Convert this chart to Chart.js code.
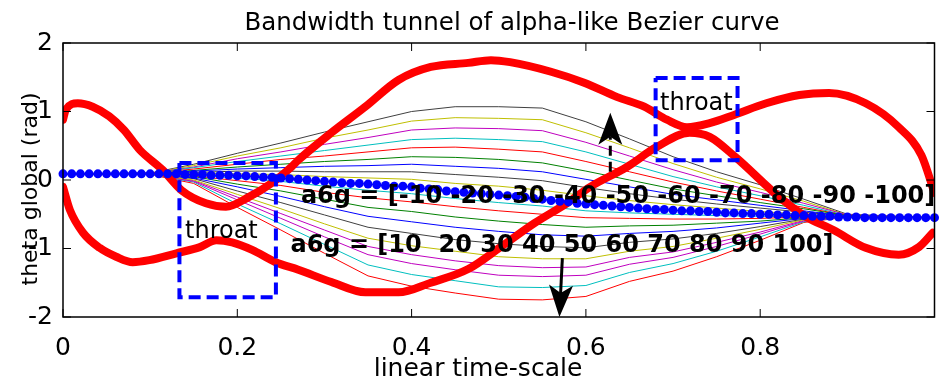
<!DOCTYPE html>
<html>
<head>
<meta charset="utf-8">
<title>Bandwidth tunnel</title>
<script src="https://cdn.jsdelivr.net/npm/chart.js@4.4.1/dist/chart.umd.min.js"></script>
<style>
  html, body { margin: 0; padding: 0; background: #fff; overflow: hidden; }
  canvas { display: block; }
</style>
</head>
<body>
<canvas id="tunnel" width="939" height="383"></canvas>
<script>
"use strict";

const FONT = '"DejaVu Sans", "Liberation Sans", Arial, sans-serif';

// time samples shared by the thin tunnel lines
const tunnelTime = [0, 0.1, 0.15, 0.2, 0.25, 0.3, 0.35, 0.4, 0.45, 0.5, 0.55, 0.6, 0.65, 0.7, 0.75, 0.8, 0.85, 0.9, 1.0];

// curves bending upwards (a6g negative), from the centre out
const upperColors = ['y', 'k', 'b', 'g', 'r', 'c', 'm', 'y', 'k'];
const upperTunnel = [
    [0.09, 0.09, 0.10, 0.09, 0.08, 0.05, 0.03, 0.01, -0.05, -0.09, -0.15, -0.23, -0.30, -0.36, -0.41, -0.46, -0.50, -0.54, -0.55],
    [0.09, 0.09, 0.11, 0.13, 0.13, 0.12, 0.12, 0.12, 0.08, 0.04, -0.01, -0.11, -0.20, -0.28, -0.35, -0.41, -0.47, -0.53, -0.55],
    [0.09, 0.09, 0.13, 0.16, 0.18, 0.20, 0.21, 0.23, 0.20, 0.17, 0.12, 0.01, -0.10, -0.21, -0.29, -0.37, -0.45, -0.53, -0.55],
    [0.09, 0.09, 0.14, 0.19, 0.23, 0.27, 0.30, 0.34, 0.33, 0.30, 0.25, 0.13, 0.00, -0.13, -0.23, -0.33, -0.42, -0.52, -0.55],
    [0.09, 0.10, 0.16, 0.23, 0.30, 0.35, 0.41, 0.47, 0.48, 0.45, 0.41, 0.27, 0.12, -0.03, -0.16, -0.28, -0.40, -0.52, -0.55],
    [0.09, 0.10, 0.18, 0.27, 0.35, 0.43, 0.51, 0.59, 0.61, 0.59, 0.56, 0.41, 0.23, 0.05, -0.10, -0.23, -0.37, -0.52, -0.55],
    [0.09, 0.10, 0.19, 0.31, 0.41, 0.52, 0.62, 0.73, 0.76, 0.75, 0.72, 0.55, 0.35, 0.15, -0.03, -0.18, -0.34, -0.51, -0.55],
    [0.09, 0.10, 0.21, 0.35, 0.47, 0.61, 0.73, 0.86, 0.91, 0.90, 0.88, 0.69, 0.47, 0.24, 0.04, -0.13, -0.31, -0.51, -0.55],
    [0.09, 0.10, 0.23, 0.39, 0.54, 0.70, 0.85, 1.00, 1.07, 1.07, 1.05, 0.85, 0.60, 0.34, 0.12, -0.07, -0.28, -0.50, -0.55]
];

// curves bending downwards (a6g positive), from the centre out
const lowerColors = ['c', 'r', 'g', 'b', 'k', 'y', 'm', 'm', 'c', 'r'];
const lowerTunnel = [
    [0.09, 0.09, 0.07, 0.03, -0.02, -0.09, -0.15, -0.20, -0.27, -0.33, -0.38, -0.45, -0.48, -0.50, -0.52, -0.53, -0.53, -0.54, -0.55],
    [0.09, 0.09, 0.06, -0.01, -0.08, -0.18, -0.26, -0.32, -0.39, -0.45, -0.50, -0.55, -0.56, -0.57, -0.57, -0.56, -0.54, -0.54, -0.55],
    [0.09, 0.09, 0.05, -0.06, -0.16, -0.28, -0.40, -0.46, -0.54, -0.60, -0.65, -0.69, -0.67, -0.66, -0.63, -0.60, -0.55, -0.54, -0.55],
    [0.09, 0.09, 0.03, -0.10, -0.24, -0.39, -0.53, -0.61, -0.69, -0.75, -0.80, -0.82, -0.78, -0.75, -0.70, -0.63, -0.56, -0.54, -0.55],
    [0.09, 0.09, 0.02, -0.16, -0.33, -0.51, -0.69, -0.78, -0.87, -0.93, -0.97, -0.99, -0.91, -0.86, -0.78, -0.68, -0.57, -0.54, -0.55],
    [0.09, 0.08, 0.00, -0.21, -0.42, -0.64, -0.85, -0.96, -1.04, -1.12, -1.15, -1.15, -1.04, -0.97, -0.85, -0.72, -0.58, -0.54, -0.55],
    [0.09, 0.08, -0.01, -0.25, -0.49, -0.73, -0.97, -1.09, -1.18, -1.25, -1.28, -1.27, -1.13, -1.05, -0.91, -0.76, -0.59, -0.54, -0.55],
    [0.09, 0.08, -0.02, -0.29, -0.56, -0.83, -1.09, -1.22, -1.31, -1.39, -1.41, -1.39, -1.23, -1.13, -0.97, -0.79, -0.60, -0.54, -0.55],
    [0.09, 0.08, -0.03, -0.35, -0.64, -0.94, -1.24, -1.38, -1.47, -1.56, -1.57, -1.54, -1.35, -1.22, -1.04, -0.83, -0.61, -0.54, -0.55],
    [0.09, 0.08, -0.05, -0.40, -0.73, -1.07, -1.40, -1.55, -1.65, -1.74, -1.75, -1.70, -1.48, -1.33, -1.12, -0.88, -0.62, -0.54, -0.55]
];

// reference curve (a6g = 0), sampled every 0.01
const centreTheta = [
    0.09, 0.09, 0.09, 0.09, 0.09, 0.09, 0.09, 0.09, 0.09, 0.09,
    0.09, 0.09, 0.09, 0.09, 0.08, 0.08, 0.08, 0.07, 0.07, 0.07,
    0.06, 0.06, 0.05, 0.04, 0.04, 0.03, 0.02, 0.01, 0.00, -0.01,
    -0.02, -0.03, -0.04, -0.05, -0.05, -0.06, -0.07, -0.08, -0.09, -0.09,
    -0.10, -0.12, -0.13, -0.14, -0.16, -0.17, -0.18, -0.19, -0.20, -0.21,
    -0.22, -0.23, -0.24, -0.25, -0.27, -0.28, -0.30, -0.31, -0.32, -0.34,
    -0.35, -0.36, -0.37, -0.38, -0.39, -0.40, -0.41, -0.42, -0.43, -0.43,
    -0.44, -0.45, -0.45, -0.46, -0.46, -0.47, -0.48, -0.48, -0.49, -0.49,
    -0.50, -0.50, -0.51, -0.51, -0.52, -0.52, -0.53, -0.53, -0.53, -0.54,
    -0.54, -0.54, -0.55, -0.55, -0.55, -0.55, -0.55, -0.55, -0.55, -0.55,
    -0.55
];

// the two boundary curves of the tunnel
const boundAX = [0, 0.003, 0.017, 0.034, 0.053, 0.07, 0.088, 0.114, 0.136, 0.164, 0.187, 0.213, 0.24, 0.262, 0.27,
    0.308, 0.347, 0.385, 0.422, 0.465, 0.491, 0.513, 0.56, 0.598, 0.636, 0.667, 0.693, 0.716, 0.742, 0.77,
    0.807, 0.845, 0.879, 0.921, 0.959, 0.985, 1.0];
const boundAY = [0.88, 1.02, 1.12, 1.07, 0.93, 0.73, 0.44, 0.15, -0.15, -0.34, -0.39, -0.25, -0.04, 0.19, 0.29,
    0.69, 1.07, 1.46, 1.65, 1.71, 1.75, 1.72, 1.58, 1.42, 1.21, 1.07, 0.88, 0.77, 0.83, 0.95,
    1.12, 1.24, 1.27, 1.12, 0.77, 0.36, -0.19];
const boundBX = [0, 0.008, 0.023, 0.042, 0.061, 0.08, 0.099, 0.13, 0.157, 0.176, 0.194, 0.217, 0.244, 0.27, 0.308,
    0.347, 0.385, 0.422, 0.465, 0.502, 0.541, 0.578, 0.605, 0.647, 0.681, 0.719, 0.742, 0.772, 0.822, 0.853,
    0.884, 0.921, 0.959, 0.982, 0.998];
const boundBY = [-0.10, -0.44, -0.77, -0.99, -1.12, -1.20, -1.17, -1.07, -0.98, -0.88, -0.91, -1.02, -1.20, -1.31, -1.49,
    -1.64, -1.64, -1.50, -1.30, -0.98, -0.63, -0.34, -0.10, 0.19, 0.48, 0.69, 0.63, 0.33, -0.25, -0.54,
    -0.73, -0.99, -1.09, -0.98, -0.77];

// throat boxes: [x0, x1, yTop, yBottom]
const throatLeft = [0.1336, 0.2443, 0.25, -1.71];
const throatRight = [0.680, 0.774, 1.49, 0.29];

const matlabColors = {
    b: '#0000ff', g: '#008000', r: '#ff0000', c: '#00bfbf',
    m: '#bf00bf', y: '#bfbf00', k: '#404040'
};

function toPoints(xs, ys) {
    return xs.map((x, i) => ({ x: x, y: ys[i] }));
}

function boxPoints(b) {
    return [
        { x: b[0], y: b[2] }, { x: b[1], y: b[2] }, { x: b[1], y: b[3] },
        { x: b[0], y: b[3] }, { x: b[0], y: b[2] }
    ];
}

let datasets = [];

for (let i = 0; i < upperTunnel.length; i++) {
    datasets.push({
        data: toPoints(tunnelTime, upperTunnel[i]),
        borderColor: matlabColors[upperColors[i]],
        borderWidth: 1,
        pointRadius: 0,
        showLine: true,
        order: 4
    });
}
for (let i = 0; i < lowerTunnel.length; i++) {
    datasets.push({
        data: toPoints(tunnelTime, lowerTunnel[i]),
        borderColor: matlabColors[lowerColors[i]],
        borderWidth: 1,
        pointRadius: 0,
        showLine: true,
        order: 4
    });
}

for (let bound of [[boundAX, boundAY], [boundBX, boundBY]]) {
    datasets.push({
        data: toPoints(bound[0], bound[1]),
        borderColor: '#ff0000',
        borderWidth: 8,
        pointRadius: 0,
        showLine: true,
        cubicInterpolationMode: 'monotone',
        borderCapStyle: 'round',
        borderJoinStyle: 'round',
        clip: 0,
        order: 3
    });
}

datasets.push({
    data: centreTheta.map((y, i) => ({ x: i / 100, y: y })),
    borderColor: '#0000ff',
    backgroundColor: '#0000ff',
    borderWidth: 1,
    pointRadius: 4.5,
    pointBorderWidth: 0,
    pointBackgroundColor: '#0000ff',
    showLine: true,
    clip: false,
    order: 2
});

for (let box of [throatLeft, throatRight]) {
    datasets.push({
        data: boxPoints(box),
        borderColor: '#0000ff',
        borderWidth: 4,
        borderDash: [12, 6],
        pointRadius: 0,
        showLine: true,
        clip: false,
        order: 1
    });
}

// labels and arrows, positioned in data units
const notes = [
    { text: 'a6g = [-10 -20 -30 -40 -50 -60 -70 -80 -90 -100]', x: 0.273, y: -0.34, bold: true },
    { text: 'a6g = [10  20 30 40 50 60 70 80 90 100]', x: 0.261, y: -1.05, bold: true },
    { text: 'throat', x: 0.140, y: -0.85, bold: false },
    { text: 'throat', x: 0.685, y: 1.02, bold: false }
];
const arrows = [
    { from: [0.628, 0.12], to: [0.628, 0.98], dashed: true },
    { from: [0.573, -1.14], to: [0.5696, -2.0], dashed: false }
];

function drawArrow(ctx, x0, y0, x1, y1, dashed) {
    const headLen = 32, headWidth = 24;
    const ang = Math.atan2(y1 - y0, x1 - x0);
    const ca = Math.cos(ang), sa = Math.sin(ang);
    const bx = x1 - headLen * ca, by = y1 - headLen * sa;
    ctx.save();
    ctx.strokeStyle = '#000';
    ctx.fillStyle = '#000';
    ctx.lineWidth = 3;
    if (dashed) ctx.setLineDash([10, 6]);
    ctx.beginPath();
    ctx.moveTo(x0, y0);
    ctx.lineTo(bx + 8 * ca, by + 8 * sa);
    ctx.stroke();
    ctx.setLineDash([]);
    const nx = -sa, ny = ca;
    ctx.beginPath();
    ctx.moveTo(x1, y1);
    ctx.lineTo(bx + nx * headWidth / 2, by + ny * headWidth / 2);
    ctx.lineTo(bx + 8 * ca, by + 8 * sa);
    ctx.lineTo(bx - nx * headWidth / 2, by - ny * headWidth / 2);
    ctx.closePath();
    ctx.fill();
    ctx.restore();
}

const annotations = {
    id: 'annotations',
    afterDatasetsDraw(chart) {
        const ctx = chart.ctx;
        const xs = chart.scales.x, ys = chart.scales.y;
        for (let a of arrows) {
            drawArrow(ctx, xs.getPixelForValue(a.from[0]), ys.getPixelForValue(a.from[1]),
                xs.getPixelForValue(a.to[0]), ys.getPixelForValue(a.to[1]), a.dashed);
        }
        ctx.save();
        ctx.fillStyle = '#000';
        ctx.textBaseline = 'alphabetic';
        ctx.textAlign = 'left';
        for (let n of notes) {
            ctx.font = (n.bold ? 'bold ' : '') + '24px ' + FONT;
            ctx.fillText(n.text, xs.getPixelForValue(n.x), ys.getPixelForValue(n.y));
        }
        ctx.restore();
    },
    afterDraw(chart) {
        const ctx = chart.ctx;
        const a = chart.chartArea;
        const xs = chart.scales.x, ys = chart.scales.y;
        const tick = 8;
        ctx.save();
        // box frame with inward ticks on all four sides
        ctx.strokeStyle = '#000';
        ctx.lineWidth = 1.5;
        ctx.strokeRect(a.left, a.top, a.right - a.left, a.bottom - a.top);
        ctx.lineWidth = 1;
        ctx.beginPath();
        for (let v = 0; v <= 1.0001; v += 0.2) {
            const px = xs.getPixelForValue(v);
            ctx.moveTo(px, a.bottom); ctx.lineTo(px, a.bottom - tick);
            ctx.moveTo(px, a.top); ctx.lineTo(px, a.top + tick);
        }
        for (let v = -2; v <= 2; v++) {
            const py = ys.getPixelForValue(v);
            ctx.moveTo(a.left, py); ctx.lineTo(a.left + tick, py);
            ctx.moveTo(a.right, py); ctx.lineTo(a.right - tick, py);
        }
        ctx.stroke();

        // title and axis labels
        ctx.fillStyle = '#000';
        ctx.textBaseline = 'alphabetic';
        ctx.textAlign = 'center';
        ctx.font = '24.5px ' + FONT;
        ctx.fillText('Bandwidth tunnel of alpha-like Bezier curve', 512, 30);
        ctx.font = '25px ' + FONT;
        ctx.fillText('linear time-scale', 478, 376);
        ctx.translate(37, 189);
        ctx.rotate(-Math.PI / 2);
        ctx.font = '22px ' + FONT;
        ctx.fillText('theta global (rad)', 0, 0);
        ctx.restore();
    }
};

const ctx = document.getElementById('tunnel').getContext('2d');
const chart = new Chart(ctx, {
    type: 'scatter',
    data: { datasets: datasets },
    plugins: [annotations],
    options: {
        responsive: false,
        animation: false,
        events: [],
        layout: { padding: { top: 43, left: 0, right: 0, bottom: 0 } },
        plugins: {
            legend: { display: false },
            tooltip: { enabled: false },
            title: { display: false }
        },
        scales: {
            x: {
                type: 'linear',
                min: 0,
                max: 1,
                grid: { display: false, drawTicks: false },
                border: { display: false },
                ticks: {
                    stepSize: 0.2,
                    color: '#000',
                    font: { family: FONT, size: 25 },
                    padding: 16,
                    maxRotation: 0,
                    autoSkip: false,
                    callback: v => (v > 0.99 ? null : String(+v.toFixed(1)))
                },
                afterFit: s => { s.height = 66; }
            },
            y: {
                type: 'linear',
                min: -2,
                max: 2,
                grid: { display: false, drawTicks: false },
                border: { display: false },
                ticks: {
                    stepSize: 1,
                    color: '#000',
                    font: { family: FONT, size: 25 },
                    padding: 10
                },
                afterFit: s => { s.width = 63; }
            }
        }
    }
});
</script>
</body>
</html>
